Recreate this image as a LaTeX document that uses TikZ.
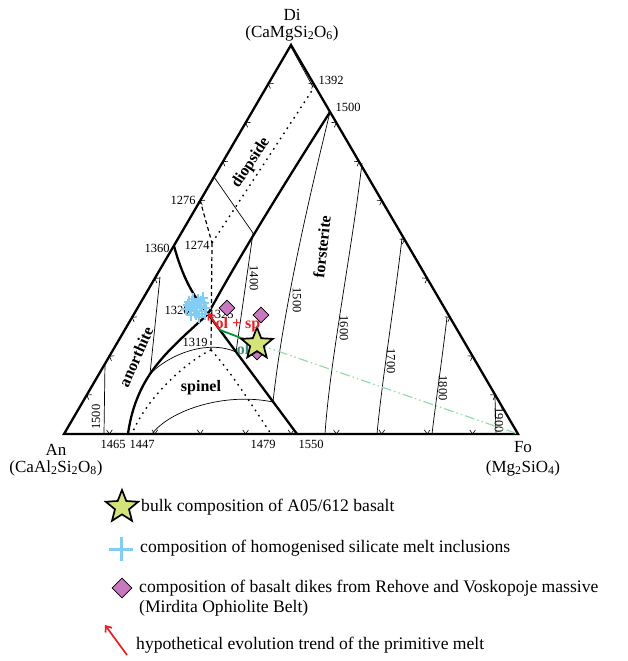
\documentclass[tikz,border=0pt]{standalone}
\usepackage{fontspec}
\setmainfont{Liberation Serif}
\usetikzlibrary{shapes.geometric,arrows.meta,calc}
\definecolor{skyb}{RGB}{130,205,245}
\definecolor{dpurp}{RGB}{200,120,190}
\definecolor{staryel}{RGB}{212,228,120}
\definecolor{grn}{RGB}{0,150,60}
\definecolor{ltgrn}{RGB}{150,220,170}
\definecolor{tealc}{RGB}{60,140,120}
\definecolor{redc}{RGB}{235,30,35}
\begin{document}
\begin{tikzpicture}[x=1pt,y=-1pt,
  edgeln/.style={line width=2.3pt, line join=miter},
  bnd/.style={line width=2.3pt},
  iso/.style={line width=0.7pt},
  dotln/.style={line width=1.4pt, dash pattern=on 1.6pt off 4.6pt},
  dashln/.style={line width=1.2pt, dash pattern=on 4pt off 3pt},
  tnum/.style={font=\fontsize{12.5}{14}\selectfont, inner sep=0.5pt},
  fld/.style={font=\fontsize{16}{18}\selectfont\bfseries, inner sep=0},
  vlab/.style={font=\fontsize{17}{19}\selectfont, inner sep=0},
  leg/.style={font=\fontsize{17.6}{21}\selectfont, anchor=west, inner sep=0},
  emark/.style={line width=0.6pt},
  starsym/.style={star, star points=5, star point ratio=2.3, draw=black, line width=1.7pt, fill=staryel, inner sep=0},
  diasym/.style={diamond, draw=black, fill=dpurp, line width=0.6pt, inner sep=0},
  redarr/.style={redc, line width=1.7pt, -{Straight Barb[length=5pt,width=8pt]}},
]
\useasboundingbox (0,0) rectangle (628,661);
% vertices and key points
\coordinate (An) at (64,434);
\coordinate (Fo) at (518,434);
\coordinate (Di) at (291,45);
\coordinate (P1500) at (330,112);
\coordinate (P1392) at (315,86);
\coordinate (P1360) at (174,246);
\coordinate (P1276) at (200,200);
\coordinate (P1274) at (212,243);
\coordinate (J) at (208,314);
\coordinate (B1447) at (128,434);
\coordinate (B1550) at (297,434);
\coordinate (Sa) at (150,374);
\coordinate (Sb) at (236,352);
\coordinate (Sc) at (273,402);
\coordinate (Sd) at (211,350);
% triangle
\draw[edgeln] (An) -- (Di) -- (Fo) -- cycle;
% edge marks
\foreach \k in {1,2,3,4,6,7,8,9} {
  \draw[emark] ($(An)!\k/10!(Di)$) ++(-4.7:5) -- ($(An)!\k/10!(Di)$) -- ++(65.3:5);
}
\foreach \k in {1,...,9} {
  \draw[emark] ($(Fo)!\k/10!(Di)$) ++(114.7:5) -- ($(Fo)!\k/10!(Di)$) -- ++(184.7:5);
  \draw[emark] ($(An)!\k/10!(Fo)$) ++(-55:5) -- ($(An)!\k/10!(Fo)$) -- ++(-125:5);
}
% cotectic boundaries
\draw[bnd] (P1500) .. controls (290,175) and (240,255) .. (J);
\draw[bnd] (P1360) .. controls (182,275) and (192,295) .. (J);
\draw[bnd] (J) .. controls (185,335) and (165,352) .. (Sa) .. controls (138,392) and (131,412) .. (B1447);
\draw[bnd] (J) -- (B1550);
% thin lines
\draw[iso] (Di) ++(0,2) -- (313,87);
\draw[iso] (214,177) -- (253,233);
\draw[iso] (253,233) -- (Sb);
\draw[iso] (160,277) -- (Sa);
\draw[iso] (105,363) -- (104,434);
\draw[iso] (P1500) .. controls (316,170) and (284,300) .. (Sc);
\draw[iso] (362,163) .. controls (352,250) and (330,360) .. (325,434);
\draw[iso] (402,238) .. controls (395,300) and (382,380) .. (377,434);
\draw[iso] (447,317) .. controls (442,360) and (436,400) .. (432,434);
\draw[iso] (495,397) -- (496,434);
\draw[iso] (Sa) .. controls (172,352) and (210,340) .. (Sb);
\draw[iso] (152,434) .. controls (170,410) and (225,392) .. (Sc);
% dotted / dashed
\draw[dotln] (P1392) -- (P1274);
\draw[dashln] (P1276) -- (P1274);
\draw[dashln] (P1274) -- (Sd);
\draw[dotln] (Sd) .. controls (185,362) and (145,400) .. (132,434);
\draw[dotln] (Sd) .. controls (230,370) and (255,410) .. (271,434);
% vertex labels
\node[vlab] (tDi) at (292,15) {Di};
\node[vlab] (tDiF) at (292,33) {(CaMgSi\textsubscript{2}O\textsubscript{6})};
\node[vlab] (tAn) at (56,450) {An};
\node[vlab] (tAnF) at (56,468) {(CaAl\textsubscript{2}Si\textsubscript{2}O\textsubscript{8})};
\node[vlab] (tFo) at (523,447) {Fo};
\node[vlab] (tFoF) at (523,468) {(Mg\textsubscript{2}SiO\textsubscript{4})};
% temperature labels
\node[tnum] (t1392) at (331,80) {1392};
\node[tnum] (t1500a) at (348,107) {1500};
\node[tnum] (t1276) at (183,200) {1276};
\node[tnum] (t1274) at (197,245) {1274};
\node[tnum] (t1360) at (157,248) {1360};
\node[tnum] (t1320) at (177,310) {1320};
\node[tnum] (t1325) at (221,314) {1325};
\node[tnum] (t1319) at (195,342) {1319};
\node[tnum] (t1465) at (113,444) {1465};
\node[tnum] (t1447) at (142,444) {1447};
\node[tnum] (t1479) at (263,444) {1479};
\node[tnum] (t1550) at (311,444) {1550};
\node[tnum, rotate=90] (t1500b) at (96,417) {1500};
\node[tnum, rotate=-90] (t1400) at (254,278) {1400};
\node[tnum, rotate=-90] (t1500c) at (297,300) {1500};
\node[tnum, rotate=-90] (t1600) at (344,328) {1600};
\node[tnum, rotate=-90] (t1700) at (391,361) {1700};
\node[tnum, rotate=-90] (t1800) at (443,388) {1800};
\node[tnum, rotate=-90] (t1900) at (499,420) {1900};
% field labels
\node[fld, rotate=57] (fdi) at (251,163) {diopside};
\node[fld, rotate=84] (ffo) at (322,247) {forsterite};
\node[fld, rotate=66] (fan) at (136,357) {anorthite};
\node[fld] (fsp) at (201,388) {spinel};
% data
\coordinate (G0) at (220,330);
\coordinate (R1) at (208,313);
\node[starsym, minimum size=33pt, draw=none, fill=none] (st) at (257,344) {};
\draw[ltgrn, line width=1.2pt, dash pattern=on 10pt off 3pt on 1.5pt off 3pt on 1.5pt off 3pt] (st.center) -- (Fo);
\draw[grn, line width=1.8pt] (G0) -- (st.center);
\node[diasym, minimum size=16pt] (d1) at (227,308) {};
\node[diasym, minimum size=16pt] (d2) at (261,315) {};
\node[diasym, minimum size=14pt] (d3) at (257,353) {};
\node[fld, text=tealc] (tol) at (243,349) {ol};
\node[starsym, minimum size=33pt] (st2) at (257,344) {};
\foreach \x/\y in {188/305,190/310,192/302,194/308,196/314,198/300,200/306,202/311,204/303,195/304,191/315,199/317,203/298,186/309,206/308,193/299,197/311,201/302,189/302,205/314} {
  \draw[skyb, line width=1.6pt] (\x-5,\y) -- (\x+5,\y) (\x,\y-6) -- (\x,\y+6);
}
\draw[redarr] (G0) -- (R1);
\node[fld, text=redc] (tolsp) at (238,325) {ol + sp};
% legend
\node[starsym, minimum size=34pt] (lst) at (122,507) {};
\node[leg] (l1) at (141,507) {bulk composition of A05/612 basalt};
\coordinate (lc) at (121,549);
\draw[skyb, line width=3pt] (109,549) -- (133,549) (121,537) -- (121,561);
\node[leg] (l2) at (140,548) {composition of homogenised silicate melt inclusions};
\node[diasym, minimum size=20pt] (ldia) at (122,588) {};
\node[leg] (l3) at (139,588) {composition of basalt dikes from Rehove and Voskopoje massive};
\node[leg] (l3b) at (139,608) {(Mirdita Ophiolite Belt)};
\coordinate (la0) at (127,655);
\coordinate (la1) at (105,625);
\draw[redarr] (la0) -- (la1);
\node[leg] (l4) at (136,645) {hypothetical evolution trend of the primitive melt};
\end{tikzpicture}
\end{document}
